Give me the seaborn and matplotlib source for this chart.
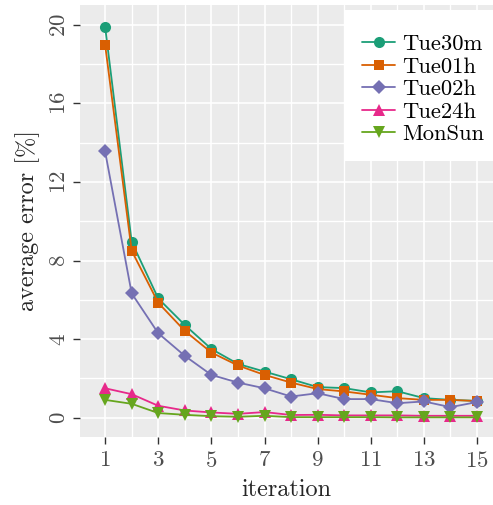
import pandas as pd
import seaborn as sns
import matplotlib.pyplot as plt

# values
iterations = list(range(1, 16))
tue30m = [19.9, 8.95, 6.07, 4.72, 3.5, 2.74, 2.35, 1.96, 1.56, 1.51, 1.29, 1.35, 1.0, 0.91, 0.86]
tue01h = [18.98, 8.5, 5.85, 4.42, 3.32, 2.66, 2.18, 1.79, 1.46, 1.34, 1.17, 1.0, 0.91, 0.91, 0.85]
tue02h = [13.55, 6.33, 4.3, 3.15, 2.18, 1.79, 1.5, 1.08, 1.25, 0.95, 0.95, 0.74, 0.83, 0.54, 0.8]
tue24h = [1.5, 1.2, 0.61, 0.37, 0.27, 0.2, 0.29, 0.14, 0.15, 0.12, 0.12, 0.12, 0.1, 0.1, 0.1]
monsun = [0.91, 0.71, 0.24, 0.15, 0.08, 0.05, 0.1, 0.03, 0.03, 0.03, 0.03, 0.02, 0.02, 0.02, 0.02]
series_names = ["Tue30m", "Tue01h", "Tue02h", "Tue24h", "MonSun"]

df = pd.DataFrame({
    "iteration": iterations * 5,
    "error": tue30m + tue01h + tue02h + tue24h + monsun,
    "series": [s for s in series_names for _ in iterations],
})

sns.set_theme(style="darkgrid")
plt.rcParams["font.family"] = ["cmr10", "DejaVu Serif"]
plt.rcParams["axes.formatter.use_mathtext"] = True
plt.rcParams["mathtext.fontset"] = "cm"

fig = plt.figure(figsize=(4.93, 5.05), dpi=100)
ax = fig.add_axes([0.162, 0.135, 0.838, 0.855])
ax.set_facecolor("#EBEBEB")

palette = dict(zip(series_names, sns.color_palette("Dark2", 5)))
markers = dict(zip(series_names, ["o", "s", "D", "^", "v"]))
sizes = {"Tue30m": 8, "Tue01h": 7.5, "Tue02h": 7, "Tue24h": 8.5, "MonSun": 8.5}

for name in series_names:
    sub = df[df["series"] == name]
    sns.lineplot(data=sub, x="iteration", y="error", ax=ax, color=palette[name],
                 marker=markers[name], markersize=sizes[name], markeredgewidth=0,
                 linewidth=1.3, label=name)

ax.set_xlim(0.05, 15.6)
ax.set_ylim(-0.97, 21.0)
ax.set_xticks(range(1, 16, 2))
ax.set_xticks(range(2, 16, 2), minor=True)
ax.set_yticks(range(0, 21, 4))
ax.set_yticks(range(2, 20, 4), minor=True)
ax.grid(which="major", color="white", linewidth=1.2)
ax.grid(which="minor", color="white", linewidth=1.0)
for s in ax.spines.values():
    s.set_visible(False)

ax.tick_params(which="major", length=5, width=1, color="#333333", labelcolor="#4D4D4D",
               labelsize=16.5, pad=3, bottom=True, left=True)
ax.tick_params(axis="x", which="major", pad=5)
ax.tick_params(which="minor", length=0)
for lab in ax.get_yticklabels():
    lab.set_rotation(90)
    lab.set_va("center")

ax.set_xlabel("iteration", fontsize=17.5, labelpad=6)
ax.set_ylabel("average error [%]", fontsize=17.5, labelpad=7)

leg = ax.legend(loc="upper right", bbox_to_anchor=(1.019, 0.988), frameon=True, fancybox=False,
                facecolor="white", edgecolor="none", framealpha=1, fontsize=16.3,
                handlelength=1.45, handletextpad=0.3, labelspacing=0.12,
                borderpad=0.75, borderaxespad=0, title=" ", title_fontsize=3.5)
for t in leg.get_texts():
    t.set_color("black")

fig.savefig("out.png", dpi=100)
